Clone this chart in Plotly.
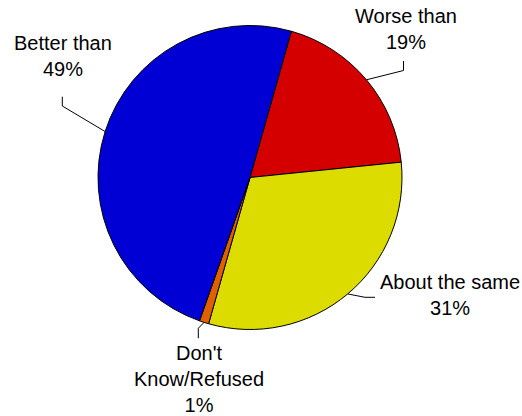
import math
import plotly.graph_objects as go

labels = ["Worse than", "About the same", "Don't<br>Know/Refused", "Better than"]
values = [19, 31, 1, 49]
colors = ["#D40000", "#DCDC00", "#E06000", "#0000D4"]
rotation = 15.8

W, H = 522, 416
cx, cy, R = 250, 177.5, 152

# label block centres (pixels) and leader elbows
label_pos = [(405.5, 29), (450, 295), (198.5, 379), (63, 56)]
elbows = [[(403.5, 70.5), (403.5, 61)],
          [(365, 297.3), (375, 297.3)],
          [(198.3, 328.3), (198.3, 338.3)],
          [(62.3, 106), (62.3, 96.7)]]

fig = go.Figure()
fig.add_trace(go.Pie(
    labels=labels, values=values, sort=False, direction="clockwise",
    rotation=rotation, textinfo="none", hoverinfo="label+percent",
    marker=dict(colors=colors, line=dict(color="black", width=1)),
    domain=dict(x=[(cx - R) / W, (cx + R) / W],
                y=[(H - cy - R) / H, (H - cy + R) / H]),
    showlegend=False,
))

total = sum(values)
start = rotation
annotations = []
for i, v in enumerate(values):
    frac = v / total
    mid = start + frac * 360 / 2
    start += frac * 360
    a = math.radians(mid)
    ex, ey = cx + R * math.sin(a), cy - R * math.cos(a)
    xs = [ex] + [p[0] for p in elbows[i]]
    ys = [ey] + [p[1] for p in elbows[i]]
    fig.add_trace(go.Scatter(x=xs, y=ys, mode="lines",
                             line=dict(color="black", width=1),
                             hoverinfo="skip", showlegend=False))
    lx, ly = label_pos[i]
    annotations.append(dict(x=lx, y=ly, xref="x", yref="y",
                            text=f"{labels[i]}<br>{round(frac*100)}%",
                            showarrow=False, xanchor="center", yanchor="middle",
                            font=dict(family="Liberation Sans, Arial", size=20, color="black")))

fig.update_layout(
    width=W, height=H, margin=dict(l=0, r=0, t=0, b=0),
    paper_bgcolor="white", plot_bgcolor="rgba(0,0,0,0)",
    xaxis=dict(range=[0, W], visible=False, fixedrange=True),
    yaxis=dict(range=[H, 0], visible=False, fixedrange=True),
    annotations=annotations,
)
fig.write_html("out.html", config={"displayModeBar": False},
               post_script="document.body.style.margin='0';document.body.style.overflow='hidden';")
